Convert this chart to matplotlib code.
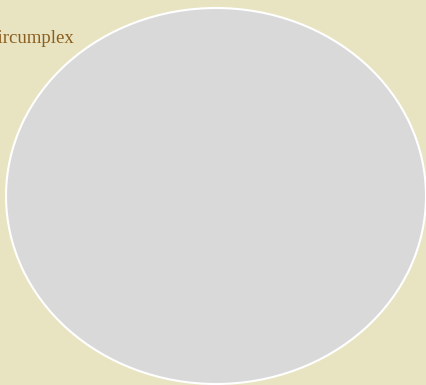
import matplotlib.pyplot as plt

labels = ['Circumplex']
values = [1]
colors = ['#d9d9d9']

bg = '#e8e4c2'

fig = plt.figure(figsize=(4.27, 3.85), dpi=100)
fig.patch.set_facecolor(bg)
ax = fig.add_axes([6 / 427, 1 - 384 / 385, 420 / 427, 376 / 385])
ax.set_facecolor(bg)

wedges, texts = ax.pie(values, labels=labels, colors=colors, startangle=-51,
                       labeldistance=1.075, radius=1,
                       wedgeprops=dict(edgecolor='white', linewidth=1.5),
                       textprops=dict(color='#8b5e1e', fontsize=13.5,
                                      family='Liberation Serif'))
ax.set_aspect('auto')
ax.set_xlim(-1, 1)
ax.set_ylim(-1, 1)
ax.axis('off')

fig.savefig('out.png', dpi=100, facecolor=bg)
